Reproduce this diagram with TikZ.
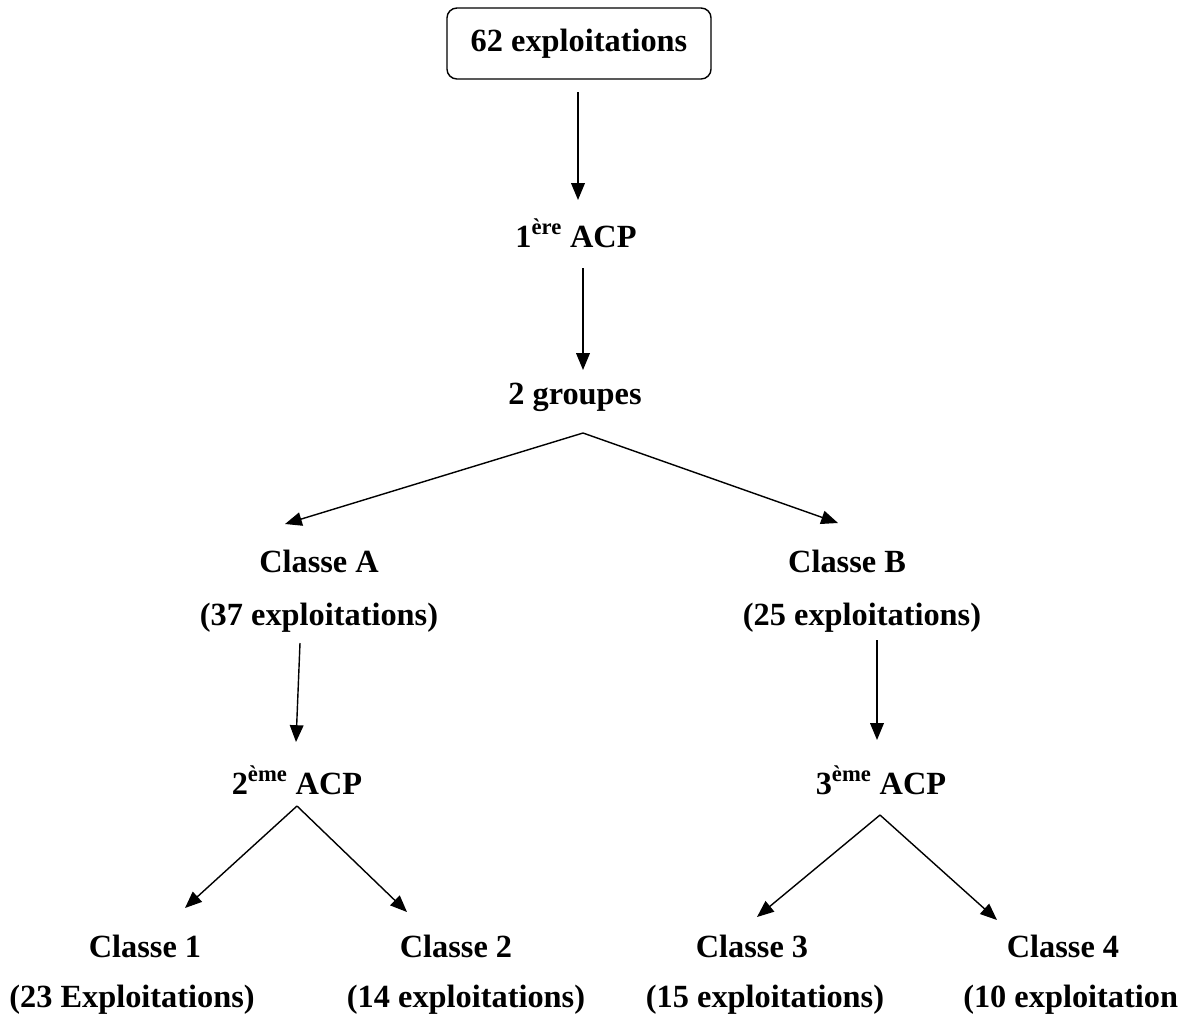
\documentclass[tikz,border=0pt]{standalone}
\usepackage{fontspec}
\setmainfont{Liberation Serif}
\usetikzlibrary{calc,arrows.meta,positioning}

\tikzset{
  lbl/.style={font=\fontsize{23}{27}\selectfont\bfseries, inner sep=0pt},
  topbox/.style={lbl, draw, line width=1pt, rounded corners=0.25cm,
    minimum width=6.6cm, minimum height=1.775cm},
  arr/.style={line width=1pt, -{Triangle[length=0.42cm,width=0.34cm]}}
}

\begin{document}
\begin{tikzpicture}[x=0.025cm,y=-0.025cm]

\useasboundingbox (0,0) rectangle (1188,1021);

% the labels
\node[topbox] (top) at (579,43.5) {62 exploitations};
\node[lbl] (acp1) at (576,233) {1\textsuperscript{ère} ACP};
\node[lbl] (grp) at (575,397) {2 groupes};
\node[lbl] (clsA) at (319,561) {Classe A};
\node[lbl] (nA) at (319,618) {(37 exploitations)};
\node[lbl] (clsB) at (847,561) {Classe B};
\node[lbl] (nB) at (862,618) {(25 exploitations)};
\node[lbl] (acp2) at (297,780) {2\textsuperscript{ème} ACP};
\node[lbl] (acp3) at (881,780) {3\textsuperscript{ème} ACP};
\node[lbl] (cls1) at (145,946) {Classe 1};
\node[lbl] (n1) at (132,1000) {(23 Exploitations)};
\node[lbl] (cls2) at (456,946) {Classe 2};
\node[lbl] (n2) at (466,1000) {(14 exploitations)};
\node[lbl] (cls3) at (752,946) {Classe 3};
\node[lbl] (n3) at (765,1000) {(15 exploitations)};
\node[lbl] (cls4) at (1063,946) {Classe 4};
\node[lbl,anchor=west] (n4) at (963,1000) {(10 exploitation};

% the arrows
\draw[arr] ($(top)+(-1,48.5)$) -- ($(acp1)+(2,-33)$);
\draw[arr] ($(acp1)+(7,35)$) -- ($(grp)+(8,-27)$);
\draw[arr] ($(grp)+(8,36)$) -- ($(clsA)+(-34,-37)$);
\draw[arr] ($(grp)+(8,36)$) -- ($(clsB)+(-9,-38)$);
\draw[arr] ($(nA)+(-19,25)$) -- ($(acp2)+(-1,-38)$);
\draw[arr] ($(nB)+(15,22)$) -- ($(acp3)+(-4,-40)$);
\draw[arr] ($(acp2)+(0,26)$) -- ($(cls1)+(40,-38)$);
\draw[arr] ($(acp2)+(0,26)$) -- ($(cls2)+(-49,-34)$);
\draw[arr] ($(acp3)+(-1,35)$) -- ($(cls3)+(5,-29)$);
\draw[arr] ($(acp3)+(-1,35)$) -- ($(cls4)+(-66,-26)$);

\end{tikzpicture}
\end{document}
